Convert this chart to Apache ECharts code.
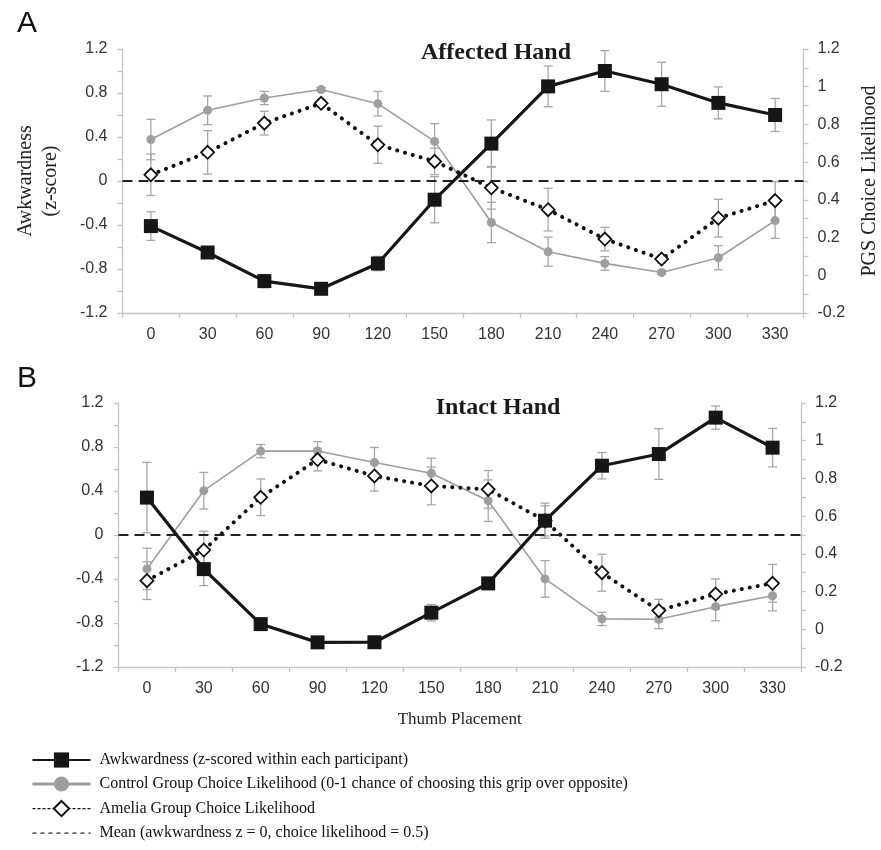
<!DOCTYPE html>
<html>
<head>
<meta charset="utf-8">
<script src="https://cdn.jsdelivr.net/npm/echarts@6/dist/echarts.min.js"></script>
<style>
html,body{margin:0;padding:0;background:#fff;}
#chart{width:881px;height:850px;}
</style>
</head>
<body>
<div id="chart"></div>
<script>
// ---- data ----
const categories = ['0','30','60','90','120','150','180','210','240','270','300','330'];
const leftTicks = [-1.2,-0.8,-0.4,0,0.4,0.8,1.2];
const rightTicks = [-0.2,0,0.2,0.4,0.6,0.8,1,1.2];

// Panel A: Affected Hand
const awkA      = [-0.41,-0.65,-0.91,-0.98,-0.75,-0.17,0.34,0.86,1.00,0.88,0.71,0.60];
const awkAErr   = [0.13,0.02,0.06,0.02,0.065,0.21,0.215,0.185,0.185,0.20,0.145,0.15];
const ctrlA     = [0.72,0.875,0.94,0.985,0.91,0.71,0.28,0.125,0.063,0.015,0.093,0.29];
const ctrlAErr  = [0.107,0.076,0.035,0.01,0.065,0.094,0.107,0.077,0.036,0.01,0.064,0.094];
const ameliaA   = [0.533,0.652,0.807,0.912,0.692,0.604,0.464,0.348,0.192,0.086,0.303,0.396];
const ameliaAErr= [0.11,0.115,0.063,0.02,0.098,0.07,0.113,0.113,0.062,0.02,0.10,0.10];

// Panel B: Intact Hand
const awkB      = [0.34,-0.31,-0.81,-0.976,-0.975,-0.706,-0.44,0.13,0.63,0.736,1.067,0.794];
const awkBErr   = [0.32,0.15,0.02,0.02,0.02,0.075,0.055,0.16,0.12,0.23,0.105,0.175];
const ctrlB     = [0.32,0.735,0.945,0.945,0.884,0.827,0.682,0.267,0.055,0.053,0.12,0.178];
const ctrlBErr  = [0.11,0.097,0.035,0.05,0.08,0.08,0.11,0.097,0.035,0.05,0.075,0.08];
const ameliaB   = [0.258,0.42,0.70,0.90,0.813,0.76,0.742,0.575,0.30,0.099,0.187,0.244];
const ameliaBErr= [0.10,0.10,0.097,0.06,0.08,0.10,0.10,0.08,0.098,0.06,0.08,0.10];

const meanLevel = 0; // awkwardness z = 0 (choice likelihood 0.5)

const NAME_AWK = 'Awkwardness (z-scored within each participant)';
const NAME_CTRL = 'Control Group Choice Likelihood (0-1 chance of choosing this grip over opposite)';
const NAME_AMEL = 'Amelia Group Choice Likelihood';
const NAME_MEAN = 'Mean (awkwardness z = 0, choice likelihood = 0.5)';

// ---- styles ----
const SANS = 'Liberation Sans, Arial, sans-serif';
const SERIF = 'Liberation Serif, Times New Roman, serif';
const AXIS_GRAY = '#c4c4c4';
const ERR_GRAY = '#a6a6a6';

function errData(v, e){ return v.map((y,i)=>[i, y-e[i], y+e[i]]); }

function errRender(params, api){
  const x = api.value(0);
  const lo = api.coord([x, api.value(1)]);
  const hi = api.coord([x, api.value(2)]);
  const w = 4.5;
  const st = {stroke: ERR_GRAY, lineWidth: 1.3, fill: null};
  return {type:'group', children:[
    {type:'line', shape:{x1:hi[0],y1:hi[1],x2:lo[0],y2:lo[1]}, style:st},
    {type:'line', shape:{x1:hi[0]-w,y1:hi[1],x2:hi[0]+w,y2:hi[1]}, style:st},
    {type:'line', shape:{x1:lo[0]-w,y1:lo[1],x2:lo[0]+w,y2:lo[1]}, style:st}
  ]};
}

function makeXAxis(gridIndex, withName){
  const ax = {
    type:'category', gridIndex, data: categories, boundaryGap:true,
    axisLine:{onZero:false, lineStyle:{color:AXIS_GRAY, width:1.3}},
    axisTick:{show:true, length:5, alignWithLabel:false, lineStyle:{color:AXIS_GRAY, width:1.3}},
    axisLabel:{color:'#333', fontFamily:SANS, fontSize:16, margin:14},
    splitLine:{show:false}
  };
  if (withName){
    ax.name = 'Thumb Placement';
    ax.nameLocation = 'middle';
    ax.nameGap = 44;
    ax.nameTextStyle = {fontFamily:SERIF, fontSize:17, color:'#222'};
  }
  return ax;
}
function makeLeftAxis(gridIndex, withName){
  const ax = {
    type:'value', gridIndex, position:'left', min:leftTicks[0], max:leftTicks[leftTicks.length-1], interval:0.4,
    axisLine:{show:true, lineStyle:{color:AXIS_GRAY, width:1.3}},
    axisTick:{show:true, length:5, lineStyle:{color:AXIS_GRAY, width:1.3}},
    minorTick:{show:true, splitNumber:2, length:5, lineStyle:{color:AXIS_GRAY, width:1.3}},
    axisLabel:{color:'#333', fontFamily:SANS, fontSize:16, margin:15},
    splitLine:{show:false}
  };
  if (withName){
    ax.name = 'Awkwardness\n(z-score)';
    ax.nameLocation = 'middle';
    ax.nameRotate = 90;
    ax.nameGap = 59;
    ax.nameTextStyle = {fontFamily:SERIF, fontSize:20, color:'#222', lineHeight:25};
  }
  return ax;
}
function makeRightAxis(gridIndex, withName){
  const ax = {
    type:'value', gridIndex, position:'right', min:rightTicks[0], max:rightTicks[rightTicks.length-1], interval:0.2,
    axisLine:{show:true, lineStyle:{color:AXIS_GRAY, width:1.3}},
    axisTick:{show:true, length:5, lineStyle:{color:AXIS_GRAY, width:1.3}},
    minorTick:{show:true, splitNumber:2, length:5, lineStyle:{color:AXIS_GRAY, width:1.3}},
    axisLabel:{color:'#333', fontFamily:SANS, fontSize:16, margin:14},
    splitLine:{show:false}
  };
  if (withName){
    ax.name = 'PGS Choice Likelihood';
    ax.nameLocation = 'middle';
    ax.nameRotate = 90;
    ax.nameGap = 56;
    ax.nameTextStyle = {fontFamily:SERIF, fontSize:20, color:'#222'};
  }
  return ax;
}

function panelSeries(g, awk, awkE, ctrl, ctrlE, amel, amelE){
  const xi = g, yl = g*2, yr = g*2+1;
  return [
    {type:'custom', xAxisIndex:xi, yAxisIndex:yr, data:errData(ctrl, ctrlE), renderItem:errRender, z:1, silent:true, encode:{x:0,y:[1,2]}},
    {type:'custom', xAxisIndex:xi, yAxisIndex:yr, data:errData(amel, amelE), renderItem:errRender, z:1, silent:true, encode:{x:0,y:[1,2]}},
    {type:'custom', xAxisIndex:xi, yAxisIndex:yl, data:errData(awk, awkE), renderItem:errRender, z:1, silent:true, encode:{x:0,y:[1,2]}},
    {name:NAME_MEAN, type:'line', xAxisIndex:xi, yAxisIndex:yl, data:[], symbol:'none', showSymbol:false,
     lineStyle:{color:'#222', width:1.8, type:[10,6]}, itemStyle:{color:'#222'}, z:2,
     markLine:{silent:true, symbol:['none','none'], label:{show:false},
       lineStyle:{color:'#222', width:1.8, type:[10,6]}, data:[{yAxis:meanLevel}]}},
    {name:NAME_CTRL, type:'line', xAxisIndex:xi, yAxisIndex:yr, data:ctrl,
     symbol:'circle', symbolSize:9, lineStyle:{color:'#9e9e9e', width:1.6},
     itemStyle:{color:'#9e9e9e'}, z:3},
    {name:NAME_AMEL, type:'line', xAxisIndex:xi, yAxisIndex:yr, data:amel,
     symbol:'diamond', symbolSize:13, lineStyle:{color:'#111', width:4, type:[0.1,8], cap:'round'},
     itemStyle:{color:'#fff', borderColor:'#111', borderWidth:1.8}, z:4},
    {name:NAME_AWK, type:'line', xAxisIndex:xi, yAxisIndex:yl, data:awk,
     symbol:'rect', symbolSize:14, lineStyle:{color:'#161616', width:3.2},
     itemStyle:{color:'#161616'}, z:5}
  ];
}

const chart = echarts.init(document.getElementById('chart'), null, {renderer:'canvas'});
const option = {
  animation:false,
  backgroundColor:'#fff',
  title:[
    {text:'A', left:12, top:4, textStyle:{fontFamily:SANS, fontSize:30, fontWeight:'normal', color:'#111'}},
    {text:'B', left:12, top:359, textStyle:{fontFamily:SANS, fontSize:30, fontWeight:'normal', color:'#111'}},
    {text:'Affected Hand', left:491, textAlign:'center', top:36, textStyle:{fontFamily:SERIF, fontSize:24, fontWeight:'bold', color:'#1a1a1a'}},
    {text:'Intact Hand', left:493, textAlign:'center', top:391, textStyle:{fontFamily:SERIF, fontSize:24, fontWeight:'bold', color:'#1a1a1a'}}
  ],
  legend:{
    orient:'vertical', left:26, top:747, height:105, itemWidth:58, itemHeight:19, itemGap:8,
    textStyle:{fontFamily:SERIF, fontSize:16, color:'#111', padding:[0,0,0,4]},
    data:[
      {name:NAME_AWK},
      {name:NAME_CTRL, lineStyle:{width:3}},
      {name:NAME_AMEL, lineStyle:{type:[3,2], width:1.2, cap:'butt'}},
      {name:NAME_MEAN, itemStyle:{opacity:0}, lineStyle:{type:[4,4], width:1.2}}
    ]
  },
  grid:[
    {left:122.5, right:77.5, top:49, height:264, containLabel:false, outerBoundsMode:'none'},
    {left:118.5, right:80, top:403, height:264, containLabel:false, outerBoundsMode:'none'}
  ],
  xAxis:[makeXAxis(0,false), makeXAxis(1,true)],
  yAxis:[makeLeftAxis(0,true), makeRightAxis(0,true), makeLeftAxis(1,false), makeRightAxis(1,false)],
  series:[].concat(
    panelSeries(0, awkA, awkAErr, ctrlA, ctrlAErr, ameliaA, ameliaAErr),
    panelSeries(1, awkB, awkBErr, ctrlB, ctrlBErr, ameliaB, ameliaBErr)
  )
};
chart.setOption(option);
</script>
</body>
</html>
